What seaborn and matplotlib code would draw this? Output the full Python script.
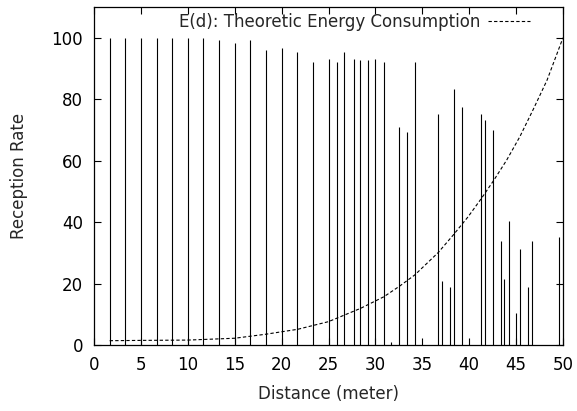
import matplotlib
matplotlib.use("Agg")
import matplotlib.pyplot as plt
import seaborn as sns
import pandas as pd

# Reception rate impulses
distance = [1.67, 3.33, 5.0, 6.67, 8.33, 10.0, 11.67, 13.33, 15.0, 16.67, 18.33,
            20.0, 21.67, 23.33, 25.0, 25.9, 26.7, 27.7, 28.4, 29.2, 30.0, 30.9,
            31.7, 32.5, 33.4, 34.2, 36.7, 37.1, 37.9, 38.4, 39.2, 41.3, 41.7,
            42.5, 43.4, 43.7, 44.2, 45.0, 45.4, 46.3, 46.7, 49.6]
reception = [100, 100, 100, 100, 100, 100, 100, 99.1, 98.3, 99.1, 96.1,
             96.6, 95.2, 92.2, 93.2, 92.2, 95.5, 93.0, 92.7, 92.7, 93.2, 92.2,
             1.0, 71.1, 69.2, 92.0, 75.1, 20.8, 19.0, 83.4, 77.5, 75.1, 73.1,
             70.0, 34.0, 21.5, 40.5, 10.5, 31.1, 19.0, 34.0, 35.0]

# Theoretic energy consumption curve
energy_d = [1.67, 5, 10, 15, 18.3, 21.7, 25, 28.4, 30.9, 32.6, 34.2, 36.7,
            38.3, 39.9, 41.3, 42.6, 44.0, 45.4, 46.8, 48.3, 50]
energy_e = [1.4, 1.5, 1.6, 2.2, 3.5, 5.1, 7.6, 11.9, 15.7, 19.2, 22.8, 30.1,
            35.8, 41.8, 47.7, 53.5, 60.2, 67.8, 76.5, 86.2, 100]

x_ticks = [0, 5, 10, 15, 20, 25, 30, 35, 40, 45, 50]
y_ticks = [0, 20, 40, 60, 80, 100]

sns.set_theme(style="ticks")
plt.rcParams['font.family'] = ['DejaVu Sans']
plt.rcParams['axes.linewidth'] = 0.9

FS = 12
fig = plt.figure(figsize=(5.77, 4.11), dpi=100)
ax = fig.add_axes([94/577, (411-345)/411, (563-94)/577, (345-7)/411])

ax.vlines(distance, 0, reception, colors="black", linewidth=0.8)

df = pd.DataFrame({"d": energy_d, "e": energy_e})
sns.lineplot(data=df, x="d", y="e", ax=ax, color="black", linewidth=0.8,
             label="E(d): Theoretic Energy Consumption")
ax.lines[-1].set_dashes((3, 2))

ax.set_xlim(0, 50)
ax.set_ylim(0, 110)
ax.set_xticks(x_ticks)
ax.set_yticks(y_ticks)
ax.tick_params(direction="in", length=5, width=0.8, top=True, right=True,
               labelsize=FS, colors="black", pad=8)
for s in ax.spines.values():
    s.set_visible(True)
    s.set_color("black")
ax.set_xlabel("Distance (meter)", fontsize=FS, labelpad=8)
ax.set_ylabel("Reception Rate", fontsize=FS, labelpad=17)

leg = ax.legend(loc="center right", frameon=False, markerfirst=False,
                fontsize=FS, handlelength=2.5, handletextpad=0.5,
                borderpad=0, borderaxespad=0,
                bbox_to_anchor=((530 - 94) / 469, (345 - 22) / 338))
for h in leg.get_lines():
    h.set_dashes((3, 2))

fig.savefig("out.png", dpi=100)
